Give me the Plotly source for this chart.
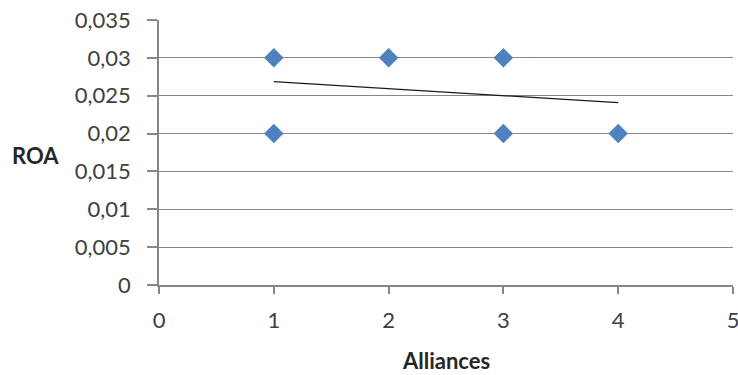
import plotly.graph_objects as go

# Observations: number of alliances vs. ROA
alliances = [1, 1, 2, 3, 3, 4]
roa = [0.03, 0.02, 0.03, 0.03, 0.02, 0.02]

# Linear trendline endpoints
trend_x = [1, 4]
trend_y = [0.02685, 0.02408]

# Axis ticks
y_ticks = [0, 0.005, 0.01, 0.015, 0.02, 0.025, 0.03, 0.035]
y_tick_labels = ["0", "0,005", "0,01", "0,015", "0,02", "0,025", "0,03", "0,035"]
x_ticks = [0, 1, 2, 3, 4, 5]
x_tick_labels = ["0", "1", "2", "3", "4", "5"]

axis_color = "#878787"
font_family = "Lato, 'Open Sans', sans-serif"

fig = go.Figure()

fig.add_trace(go.Scatter(
    x=trend_x, y=trend_y, mode="lines",
    line=dict(color="#1a1a1a", width=1.3),
    hoverinfo="skip", showlegend=False,
))

fig.add_trace(go.Scatter(
    x=alliances, y=roa, mode="markers",
    marker=dict(symbol="diamond", size=15, color="#4F81BD",
                line=dict(width=0)),
    showlegend=False,
))

fig.update_layout(
    width=738, height=375,
    margin=dict(l=159, r=5, t=20, b=90, autoexpand=False),
    paper_bgcolor="white", plot_bgcolor="white",
    font=dict(family=font_family, size=22, color="#404040"),
    xaxis=dict(
        range=[0, 5], tickvals=x_ticks, ticktext=x_tick_labels,
        showgrid=False, zeroline=False,
        showline=True, linecolor=axis_color, linewidth=1.5,
        ticks="outside", ticklen=7, tickcolor=axis_color, tickwidth=1.5,
        ticklabelstandoff=8, ticklabeloverflow="allow", automargin=False,
        fixedrange=True,
    ),
    yaxis=dict(
        range=[0, 0.035], tickvals=y_ticks, ticktext=y_tick_labels,
        showgrid=True, gridcolor=axis_color, gridwidth=1.3, zeroline=False,
        showline=True, linecolor=axis_color, linewidth=1.5,
        ticks="outside", ticklen=10, tickcolor=axis_color, tickwidth=1.5,
        ticklabelstandoff=12, automargin=False,
        fixedrange=True,
    ),
    annotations=[
        dict(text="<b>Alliances</b>", xref="paper", yref="paper",
             x=0.5, y=0, xanchor="center", yanchor="middle",
             yshift=-75, showarrow=False,
             font=dict(size=22, color="#262626")),
        dict(text="<b>ROA</b>", xref="paper", yref="paper",
             x=0, y=0.49, xanchor="center", yanchor="middle",
             xshift=-124, showarrow=False,
             font=dict(size=22, color="#262626")),
    ],
)

fig.write_html("out.html")
